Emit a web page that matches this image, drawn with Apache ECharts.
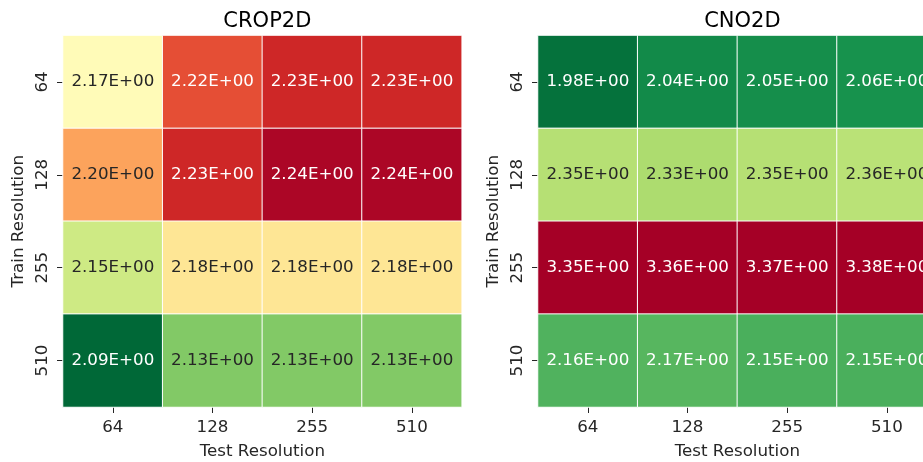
<!DOCTYPE html>
<html>
<head>
<meta charset="utf-8">
<script src="https://cdn.jsdelivr.net/npm/echarts@6/dist/echarts.min.js"></script>
<style>
  html, body { margin: 0; padding: 0; background: #fff; }
  #chart { width: 923px; height: 462px; }
</style>
</head>
<body>
<div id="chart"></div>
<script>
// Resolution categories shared by both panels
const testRes = ['64', '128', '255', '510'];
const trainRes = ['64', '128', '255', '510'];

// Errors per (train row, test column)
const crop2d = [
  [2.17, 2.22, 2.23, 2.23],
  [2.20, 2.23, 2.24, 2.24],
  [2.15, 2.18, 2.18, 2.18],
  [2.09, 2.13, 2.13, 2.13]
];
const cno2d = [
  [1.98, 2.04, 2.05, 2.06],
  [2.35, 2.33, 2.35, 2.36],
  [3.35, 3.36, 3.37, 3.38],
  [2.16, 2.17, 2.15, 2.15]
];

const panelTitles = ['CROP2D', 'CNO2D'];

// Colour scale limits for each panel
const colorRanges = [[2.094, 2.242], [1.955, 3.15]];

// Reversed red-yellow-green diverging palette
const palette = ['#006837', '#1a9850', '#66bd63', '#a6d96a', '#d9ef8b', '#ffffbf',
                 '#fee08b', '#fdae61', '#f46d43', '#d73027', '#a50026'];

const FONT = 'DejaVu Sans';
const DARK = '#262626';

function hexToRgb(h) {
  return [parseInt(h.slice(1, 3), 16), parseInt(h.slice(3, 5), 16), parseInt(h.slice(5, 7), 16)];
}
function paletteAt(t) {
  t = Math.max(0, Math.min(1, t));
  const pos = t * (palette.length - 1);
  const i = Math.min(Math.floor(pos), palette.length - 2);
  const f = pos - i;
  const a = hexToRgb(palette[i]), b = hexToRgb(palette[i + 1]);
  return a.map((c, k) => (c + (b[k] - c) * f) / 255);
}
function luminance(rgb) {
  const lin = rgb.map(c => c <= 0.03928 ? c / 12.92 : Math.pow((c + 0.055) / 1.055, 2.4));
  return 0.2126 * lin[0] + 0.7152 * lin[1] + 0.0722 * lin[2];
}
function sci(v) {
  const [m, e] = v.toExponential(2).split('e');
  const n = parseInt(e, 10);
  const sign = n < 0 ? '-' : '+';
  return m + 'E' + sign + String(Math.abs(n)).padStart(2, '0');
}

// Cell data with a label colour that stays readable on the cell fill
function buildData(matrix, lo, hi) {
  const out = [];
  matrix.forEach((row, r) => row.forEach((v, c) => {
    const lum = luminance(paletteAt((v - lo) / (hi - lo)));
    out.push({
      value: [c, r, v],
      label: { color: lum > 0.408 ? DARK : '#ffffff' }
    });
  }));
  return out;
}

const matrices = [crop2d, cno2d];

const gridLefts = [63, 538];
const gridW = 398.7, gridTop = 35.5, gridH = 371.5;
const LABEL_SIZE = 16.7;

const option = {
  backgroundColor: '#ffffff',
  animation: false,
  textStyle: { fontFamily: FONT },
  title: panelTitles.map((t, i) => ({
    text: t,
    left: gridLefts[i] + gridW / 2,
    textAlign: 'center',
    top: 6,
    textStyle: { fontFamily: FONT, fontSize: 21, fontWeight: 'normal', color: '#000' }
  })),
  grid: gridLefts.map(l => ({
    left: l, top: gridTop, width: gridW, height: gridH,
    containLabel: false, outerBoundsMode: 'none'
  })),
  xAxis: gridLefts.map((_, i) => ({
    type: 'category',
    gridIndex: i,
    data: testRes,
    name: 'Test Resolution',
    nameLocation: 'middle',
    nameGap: 36,
    nameTextStyle: { fontFamily: FONT, fontSize: LABEL_SIZE, color: DARK },
    axisLine: { show: false },
    axisTick: { show: true, alignWithLabel: true, length: 6, lineStyle: { color: DARK, width: 1 } },
    axisLabel: { fontFamily: FONT, fontSize: LABEL_SIZE, color: DARK, margin: 12 },
    splitLine: { show: false }
  })),
  yAxis: gridLefts.map((_, i) => ({
    type: 'category',
    gridIndex: i,
    data: trainRes,
    inverse: true,
    name: 'Train Resolution',
    nameLocation: 'middle',
    nameGap: 36,
    nameTextStyle: { fontFamily: FONT, fontSize: LABEL_SIZE, color: DARK },
    axisLine: { show: false },
    axisTick: { show: true, alignWithLabel: true, length: 6, lineStyle: { color: DARK, width: 1 } },
    axisLabel: { fontFamily: FONT, fontSize: LABEL_SIZE, color: DARK, rotate: 90, margin: 12 },
    splitLine: { show: false }
  })),
  visualMap: colorRanges.map((r, i) => ({
    type: 'continuous',
    show: false,
    seriesIndex: i,
    dimension: 2,
    min: r[0],
    max: r[1],
    inRange: { color: palette },
    outOfRange: { color: palette }
  })),
  series: matrices.map((m, i) => ({
    type: 'heatmap',
    xAxisIndex: i,
    yAxisIndex: i,
    data: buildData(m, colorRanges[i][0], colorRanges[i][1]),
    itemStyle: { borderColor: '#ffffff', borderWidth: 1 },
    label: {
      show: true,
      fontFamily: FONT,
      fontSize: LABEL_SIZE,
      formatter: p => sci(p.value[2])
    },
    emphasis: { disabled: true }
  }))
};

const chart = echarts.init(document.getElementById('chart'), null, { renderer: 'canvas' });
chart.setOption(option);
</script>
</body>
</html>
